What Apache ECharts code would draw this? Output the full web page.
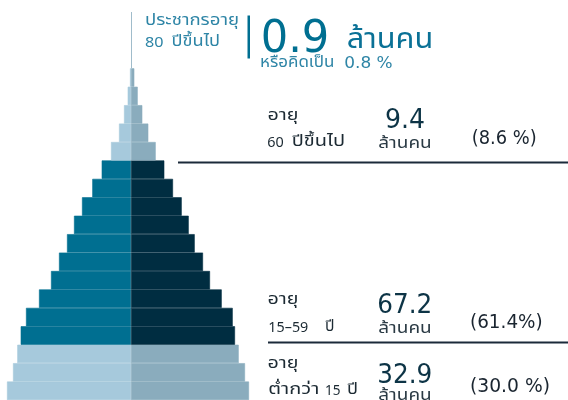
<!DOCTYPE html>
<html>
<head>
<meta charset="utf-8">
<script src="https://cdn.jsdelivr.net/npm/echarts@6/dist/echarts.min.js"></script>
<style>
  html, body { margin: 0; padding: 0; background: #ffffff; }
  #chart { width: 568px; height: 400px; }
</style>
</head>
<body>
<div id="chart"></div>
<script>
// Age bands, youngest at the bottom of the pyramid
const ageGroups = ['0-4', '5-9', '10-14', '15-19', '20-24', '25-29', '30-34', '35-39',
  '40-44', '45-49', '50-54', '55-59', '60-64', '65-69', '70-74', '75-79', '80-84', '85+'];
// Which broad group each band is coloured as
const bandGroup = ['young', 'young', 'young',
  'working', 'working', 'working', 'working', 'working', 'working', 'working', 'working', 'working', 'working',
  'old', 'old', 'old', 'old', 'old'];
// Population per band, left (male) and right (female), in ten-thousands
const male   = [124, 118, 113.7, 110.3, 105, 92, 80, 72, 64, 57, 49, 38.7, 29.3, 20, 12, 7, 3.3, 1];
const female = [118, 114, 107.7, 104, 101.7, 90.7, 79, 72, 63.7, 57.7, 50.7, 42, 33.3, 24.7, 17.3, 11.3, 6.7, 3.3];

// Headline for the oldest group
const oldestLabel = ['ประชากรอายุ', '80', 'ปีขึ้นไป'];
const oldestValue = '0.9';
const oldestShare = ['หรือคิดเป็น', '0.8 %'];
const unitText = 'ล้านคน';

// Broad age group summaries, oldest first
const groupLabels = [['60', 'ปีขึ้นไป'], ['15–59', 'ปี'], ['ต่ำกว่า', '15', 'ปี']];
const groupValues = ['9.4', '67.2', '32.9'];
const groupShares = ['(8.6 %)', '(61.4%)', '(30.0 %)'];

const palette = {
  male:   { young: '#a6c9dc', working: '#006f91', old: '#a6c9dc' },
  female: { young: '#8aacbd', working: '#002d41', old: '#8aacbd' }
};

const THAI = '"Noto Sans Thai", "Noto Sans", sans-serif';
const SANS = '"Noto Sans", "Open Sans", sans-serif';
const NUM = '"DejaVu Sans", "Noto Sans", sans-serif';

function coloured(values, side, sign) {
  return values.map((v, i) => {
    const c = palette[side][bandGroup[i]];
    return { value: sign * v, itemStyle: { color: c, borderColor: c, borderWidth: 0.6 } };
  });
}

// Text laid out to span a given width, stretched horizontally when needed
const measureCtx = document.createElement('canvas').getContext('2d');
function txt(text, x, y, size, color, family, width) {
  const font = size + 'px ' + family;
  let sx = 1;
  if (width) {
    measureCtx.font = font;
    const w = measureCtx.measureText(text).width;
    if (w > 0) sx = width / w;
  }
  return {
    type: 'text',
    x: x, y: y, scaleX: sx,
    style: { text: text, font: font, fill: color, align: 'left', verticalAlign: 'middle' },
    silent: true
  };
}

const teal = '#2e85a6';
const ink = '#1c2a33';
const graphics = [];
graphics.push(txt(oldestLabel[0], 145, 22, 15, teal, THAI, 94));
graphics.push(txt(oldestLabel[1], 145, 43, 15, teal, SANS, 18.5));
graphics.push(txt(oldestLabel[2], 171.5, 43, 15, teal, THAI, 48.5));
graphics.push({ type: 'rect', shape: { x: 247.5, y: 15.5, width: 2.5, height: 43 }, style: { fill: '#006f91' }, silent: true });
graphics.push(txt(oldestValue, 260.7, 40.5, 44, '#006f91', NUM, 68.6));
graphics.push(txt(unitText, 346.7, 42, 28, '#0a7196', THAI, 86.6));
graphics.push(txt(oldestShare[0], 260, 64, 15, teal, THAI, 74.3));
graphics.push(txt(oldestShare[1], 344.3, 64, 15, teal, NUM, 48.4));

// Summary rows
const labelY = [[117, 143], [301, 328], [365, 391]];
groupLabels.forEach((parts, k) => {
  graphics.push(txt('อายุ', 267.5, labelY[k][0], 15, ink, THAI, 31));
  const y2 = labelY[k][1];
  if (k === 0) {
    graphics.push(txt(parts[0], 267.3, y2, 15, ink, SANS, 16.5));
    graphics.push(txt(parts[1], 291.7, y2, 15, ink, THAI, 53.3));
  } else if (k === 1) {
    graphics.push(txt(parts[0], 268.3, y2, 15, ink, SANS, 40));
    graphics.push(txt(parts[1], 325, y2, 15, ink, THAI, 9.5));
  } else {
    graphics.push(txt(parts[0], 268.3, y2, 15, ink, THAI, 51));
    graphics.push(txt(parts[1], 325, y2, 15, ink, SANS, 15.5));
    graphics.push(txt(parts[2], 347, y2, 15, ink, THAI, 11));
  }
});
const valueX = [385, 377.3, 377.3];
const valueW = [40, 55, 55];
const valueY = [121.5, 306, 376];
groupValues.forEach((v, k) => graphics.push(txt(v, valueX[k], valueY[k], 26, '#0d3446', NUM, valueW[k])));
const unitY = [145, 330, 397];
unitY.forEach(y => graphics.push(txt(unitText, 378.3, y, 15, '#2a3a44', THAI, 53.4)));
const shareX = [471.7, 470, 470];
const shareW = [65, 72.7, 80];
const shareY = [139, 323, 387.5];
groupShares.forEach((s, k) => graphics.push(txt(s, shareX[k], shareY[k], 19, '#1a2530', NUM, shareW[k])));

// Divider lines
graphics.push({ type: 'line', shape: { x1: 178, y1: 162.5, x2: 568, y2: 162.5 }, style: { stroke: '#1b2a3a', lineWidth: 2 }, silent: true });
graphics.push({ type: 'line', shape: { x1: 268, y1: 342.5, x2: 568, y2: 342.5 }, style: { stroke: '#1b2a3a', lineWidth: 2 }, silent: true });

const chart = echarts.init(document.getElementById('chart'));
chart.setOption({
  animation: false,
  backgroundColor: '#ffffff',
  grid: { left: 0, right: 0, top: 68.3, height: 336, containLabel: false },
  xAxis: { type: 'value', min: -131, max: 437, show: false, splitLine: { show: false } },
  yAxis: { type: 'category', data: ageGroups, show: false },
  series: [
    { name: 'ชาย', type: 'bar', stack: 'pop', barWidth: '100%', barCategoryGap: 0, data: coloured(male, 'male', -1) },
    { name: 'หญิง', type: 'bar', stack: 'pop', barWidth: '100%', barCategoryGap: 0, data: coloured(female, 'female', 1) }
  ],
  graphic: graphics
});

// Pointer line rising from the centre of the pyramid to the oldest-group headline
const cx = chart.convertToPixel({ xAxisIndex: 0 }, 0);
const topY = chart.convertToPixel({ yAxisIndex: 0 }, ageGroups[ageGroups.length - 1]);
graphics.push({ type: 'line', shape: { x1: cx + 0.5, y1: 12, x2: cx + 0.5, y2: topY - 9.3 }, style: { stroke: '#a0bccb', lineWidth: 1 }, silent: true });
chart.setOption({ graphic: graphics });
</script>
</body>
</html>
